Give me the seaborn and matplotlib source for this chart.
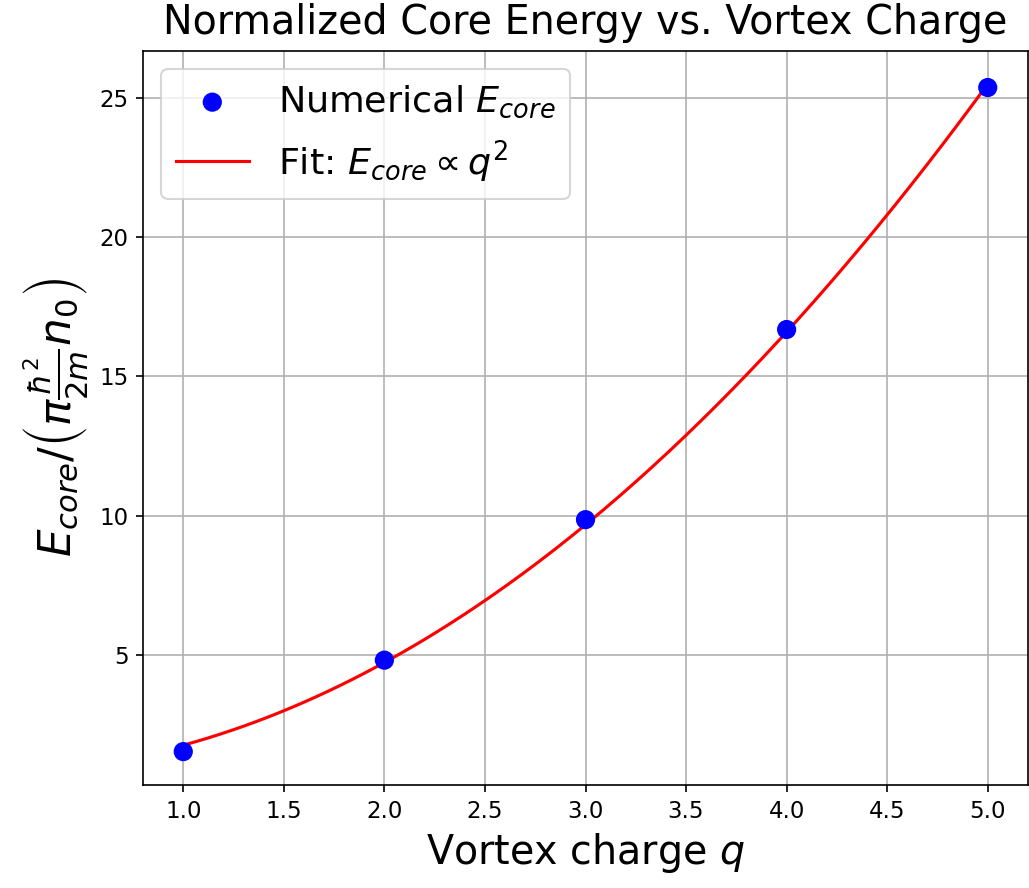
import numpy as np
import pandas as pd
import matplotlib
matplotlib.use("Agg")
import matplotlib.pyplot as plt
import seaborn as sns

# Data
charges = [1, 2, 3, 4, 5]
core_energy = [1.54, 4.82, 9.86, 16.68, 25.36]

# Fit E = a q^2 + c by least squares on the numerical points
q_arr = np.array(charges, dtype=float)
e_arr = np.array(core_energy)
a, c = np.polyfit(q_arr**2, e_arr, 1)
q_fit = np.linspace(q_arr.min(), q_arr.max(), 200)
fit_df = pd.DataFrame({"q": q_fit, "E": a * q_fit**2 + c})
pts_df = pd.DataFrame({"q": charges, "E": core_energy})

fig = plt.figure(figsize=(1029 / 150, 888 / 150), dpi=150)
ax = fig.add_axes([0.139, 0.116, 0.860, 0.827])

sns.scatterplot(data=pts_df, x="q", y="E", ax=ax, color="blue", s=85,
                edgecolor="none", label=r"Numerical $E_{core}$", zorder=3)
sns.lineplot(data=fit_df, x="q", y="E", ax=ax, color="red", linewidth=1.5,
             label=r"Fit: $E_{core} \propto q^2$", zorder=2)

ax.set_xticks(np.arange(1.0, 5.01, 0.5))
ax.set_xticklabels([f"{v:.1f}" for v in np.arange(1.0, 5.01, 0.5)])
ax.set_yticks([5, 10, 15, 20, 25])
ax.tick_params(labelsize=11)
ax.grid(True, color="#b0b0b0", linewidth=0.8)
ax.set_axisbelow(True)

ax.set_title("Normalized Core Energy vs. Vortex Charge", fontsize=19, pad=8)
ax.set_xlabel(r"Vortex charge $q$", fontsize=19)
ax.set_ylabel(r"$E_{core}/\left(\pi\frac{\hbar^2}{2m}n_0\right)$", fontsize=21)
ax.legend(loc="upper left", fontsize=17.5)

fig.savefig("out.png", dpi=150)
